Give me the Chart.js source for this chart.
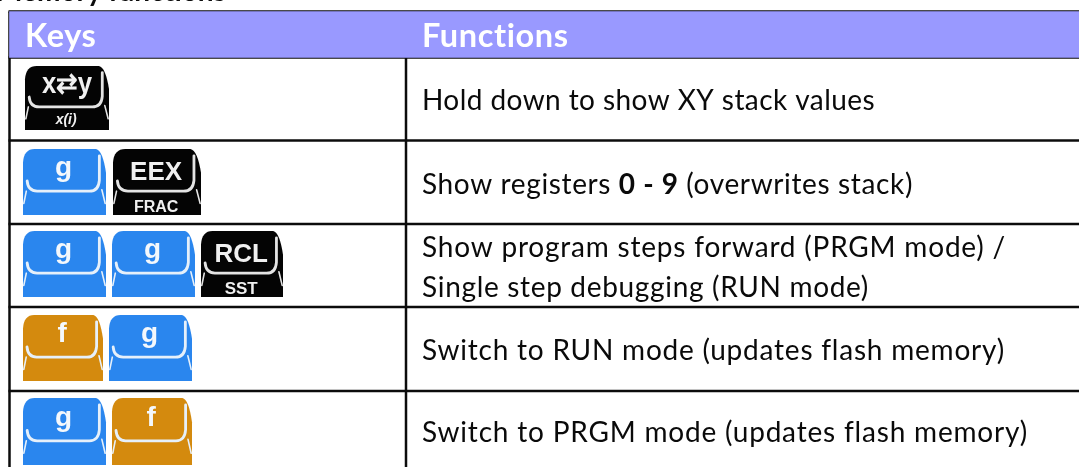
<!DOCTYPE html>
<html>
<head>
<meta charset="utf-8">
<style>
  html, body { margin: 0; padding: 0; background: #fff; overflow: hidden; }
  canvas { display: block; }
</style>
<script src="https://cdn.jsdelivr.net/npm/chart.js@4"></script>
</head>
<body>
<canvas id="tabela" width="1079" height="467"></canvas>
<script>
// table content
var titleText = 'Memory functions';
var headers = ['Keys', 'Functions'];
var functionLines = [
    [[['Hold down to show XY stack values', false]]],
    [[['Show registers ', false], ['0 - 9', true], [' (overwrites stack)', false]]],
    [[['Show program steps forward (PRGM mode) /', false]], [['Single step debugging (RUN mode)', false]]],
    [[['Switch to RUN mode (updates flash memory)', false]]],
    [[['Switch to PRGM mode (updates flash memory)', false]]]
];
var keyRows = [
    ['xy'],
    ['g', 'EEX'],
    ['g', 'g', 'RCL'],
    ['f', 'g'],
    ['g', 'f']
];
var keyLabels = { xy: 'x\u21c4y', g: 'g', f: 'f', EEX: 'EEX', RCL: 'RCL' };
var keySubLabels = { xy: 'x(i)', EEX: 'FRAC', RCL: 'SST' };

// layout, in picture units (the axes run 0-1079 and 0-467)
var columnEdges = [9.5, 406, 1079];
var rowEdges = [11.5, 57.5, 140.5, 224, 307, 391];
var keySpans = [
    [[25, 109]],
    [[23, 106], [113, 201]],
    [[23, 106], [112, 195], [201, 283]],
    [[23, 103], [109, 192]],
    [[23, 106], [112, 192]]
];
var keyTops = [66, 149, 231, 315, 398];
var keyBottoms = [132, 217, 299, 383, 467];
var lineBaselines = [[110], [193.5], [257, 297], [360], [442]];
var lineEnds = [[875], [913], [1006, 869], [1005], [1028]];

var keyColors = { g: '#2a86ee', f: '#d48a0e', dark: '#040404' };
var bodyFont = 'Lato, "Noto Sans", sans-serif';

// grid lines
var gridSets = [];
rowEdges.forEach(function (y) {
    gridSets.push({ type: 'scatter', showLine: true, pointRadius: 0, borderColor: '#0c0c0c', borderWidth: 2.5,
        data: [{ x: columnEdges[0] - 1, y: y }, { x: columnEdges[2], y: y }] });
});
columnEdges.slice(0, 2).forEach(function (x) {
    gridSets.push({ type: 'scatter', showLine: true, pointRadius: 0, borderColor: '#0c0c0c', borderWidth: 2.5,
        data: [{ x: x, y: rowEdges[0] }, { x: x, y: 467 }] });
});

// anchor point for each key
var keyPoints = [];
keyRows.forEach(function (row, r) {
    row.forEach(function (name, k) {
        var span = keySpans[r][k];
        keyPoints.push({ x: (span[0] + span[1]) / 2, y: (keyTops[r] + keyBottoms[r]) / 2, name: name, w: span[1] - span[0], h: keyBottoms[r] - keyTops[r] });
    });
});

function drawKey(ctx, p, px, py) {
    var w = p.w, h = p.h, x = px - w / 2, y = py - h / 2;
    var dark = !keyColors[p.name];
    ctx.save();
    ctx.filter = 'blur(0.6px)';
    ctx.fillStyle = dark ? keyColors.dark : keyColors[p.name];
    ctx.beginPath();
    ctx.moveTo(x, y + 0.2 * h);
    ctx.quadraticCurveTo(x + 0.01 * w, y, x + 0.14 * w, y);
    ctx.lineTo(x + 0.88 * w, y);
    ctx.quadraticCurveTo(x + 0.96 * w, y + 0.02 * h, x + w, y + 0.35 * h);
    ctx.lineTo(x + w, y + h - 2);
    ctx.lineTo(x, y + h - 2);
    ctx.closePath();
    ctx.fill();

    // white bracket round the upper face
    ctx.strokeStyle = dark ? '#e4e4e4' : '#e6f0fa';
    ctx.lineWidth = 2.8;
    ctx.lineCap = 'round';
    ctx.beginPath();
    ctx.moveTo(x + 0.92 * w, y + 0.1 * h);
    ctx.lineTo(x + 0.92 * w, y + 0.46 * h);
    ctx.quadraticCurveTo(x + 0.91 * w, y + 0.62 * h, x + 0.8 * w, y + 0.62 * h);
    ctx.lineTo(x + 0.17 * w, y + 0.62 * h);
    ctx.quadraticCurveTo(x + 0.06 * w, y + 0.62 * h, x + 0.05 * w, y + 0.47 * h);
    ctx.stroke();
    ctx.lineWidth = 1.6;
    ctx.beginPath();
    ctx.moveTo(x + 0.04 * w, y + 0.62 * h);
    ctx.lineTo(x + 0.01 * w, y + 0.8 * h);
    ctx.moveTo(x + 0.95 * w, y + 0.6 * h);
    ctx.lineTo(x + 0.99 * w, y + 0.8 * h);
    ctx.stroke();

    // key letters
    ctx.fillStyle = dark ? '#f0f0f0' : '#f4f8fc';
    ctx.textAlign = 'center';
    ctx.textBaseline = 'alphabetic';
    if (p.name === 'xy') {
        ctx.font = 'bold 29px "Liberation Sans", sans-serif';
        ctx.fillText(keyLabels.xy, x + 0.5 * w, y + 0.41 * h, 50);
        ctx.font = 'italic bold 14px "Liberation Sans", sans-serif';
        ctx.fillText(keySubLabels.xy, x + 0.49 * w, y + 0.88 * h);
    } else {
        ctx.font = 'bold ' + (dark ? 26 : 28) + 'px "Liberation Sans", sans-serif';
        ctx.fillText(keyLabels[p.name], x + 0.49 * w, y + (dark ? 0.455 : 0.40) * h);
        if (keySubLabels[p.name]) {
            ctx.font = 'bold ' + (p.name === 'RCL' ? 17 : 16) + 'px "Liberation Sans", sans-serif';
            ctx.fillText(keySubLabels[p.name], x + 0.49 * w, y + 0.92 * h);
        }
    }
    ctx.restore();
}

// draws the keys and the table text on the scales
var tabelaPlugin = {
    id: 'tabelaPlugin',
    afterDatasetsDraw: function (chart) {
        var ctx = chart.ctx, sx = chart.scales.x, sy = chart.scales.y;
        ctx.save();
        ctx.textAlign = 'left';
        ctx.textBaseline = 'alphabetic';

        ctx.fillStyle = '#0c0c0c';
        ctx.font = 'bold 28px ' + bodyFont;
        ctx.fillText(titleText, sx.getPixelForValue(-4), sy.getPixelForValue(1));

        ctx.fillStyle = '#ffffff';
        ctx.letterSpacing = '0.6px';
        ctx.font = 'bold 32.5px ' + bodyFont;
        ctx.fillText(headers[0], sx.getPixelForValue(25), sy.getPixelForValue(46.5));
        ctx.fillText(headers[1], sx.getPixelForValue(422), sy.getPixelForValue(46.5));

        // each line is spaced out to end where it ends in the picture
        ctx.fillStyle = '#0a0a0a';
        functionLines.forEach(function (lines, r) {
            lines.forEach(function (segments, l) {
                var x = sx.getPixelForValue(422), y = sy.getPixelForValue(lineBaselines[r][l]);
                var total = 0, chars = 0;
                ctx.letterSpacing = '0px';
                segments.forEach(function (seg) {
                    ctx.font = (seg[1] ? 'bold ' : '') + '28px ' + bodyFont;
                    total += ctx.measureText(seg[0]).width;
                    chars += seg[0].length;
                });
                ctx.letterSpacing = ((sx.getPixelForValue(lineEnds[r][l]) - x - total) / chars) + 'px';
                segments.forEach(function (seg) {
                    ctx.font = (seg[1] ? 'bold ' : '') + '28px ' + bodyFont;
                    ctx.fillText(seg[0], x, y);
                    x += ctx.measureText(seg[0]).width;
                });
            });
        });
        ctx.restore();

        var meta = chart.getDatasetMeta(chart.data.datasets.length - 1);
        meta.data.forEach(function (el, i) {
            drawKey(ctx, keyPoints[i], el.x, el.y);
        });
    }
};

var ctx = document.querySelector('#tabela').getContext('2d');
var tabela = new Chart(ctx, {
    data: {
        datasets: [{
            type: 'bar',
            backgroundColor: '#9999ff',
            barThickness: rowEdges[1] - rowEdges[0],
            data: [{ x: [columnEdges[0], columnEdges[2]], y: (rowEdges[0] + rowEdges[1]) / 2 }]
        }].concat(gridSets, [{
            type: 'scatter',
            pointRadius: 0,
            data: keyPoints
        }])
    },
    options: {
        responsive: false,
        animation: false,
        layout: { padding: 0 },
        datasets: { bar: { indexAxis: 'y' } },
        plugins: { legend: { display: false }, tooltip: { enabled: false }, title: { display: false } },
        scales: {
            x: { type: 'linear', display: false, min: 0, max: 1079, offset: false },
            y: { type: 'linear', display: false, min: 0, max: 467, reverse: true, offset: false }
        }
    },
    plugins: [tabelaPlugin]
});
</script>
</body>
</html>
